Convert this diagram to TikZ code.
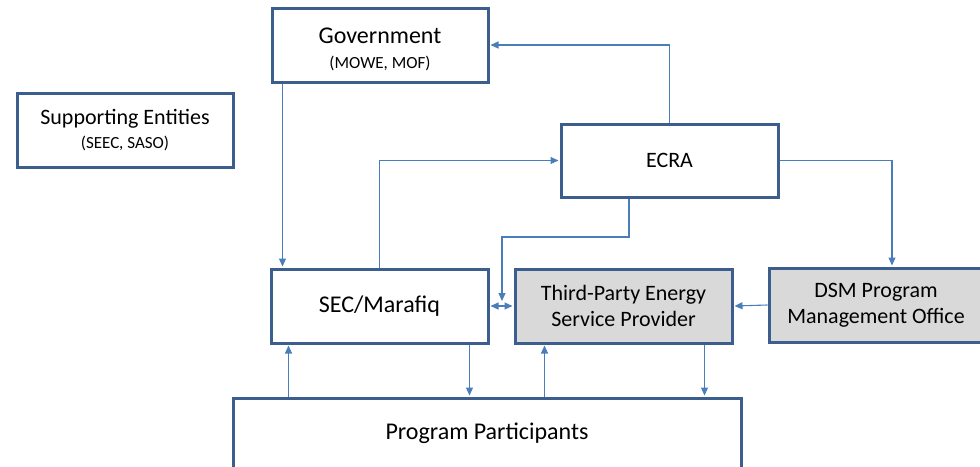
\documentclass[tikz,border=0pt]{standalone}
\usepackage{fontspec}
\setmainfont{Carlito}
\usetikzlibrary{arrows.meta,calc}
\definecolor{boxblue}{HTML}{3B5E8C}
\definecolor{lineblue}{HTML}{4A7EBB}
\definecolor{boxgrey}{HTML}{D9D9D9}
\tikzset{
  entity/.style={draw=boxblue, line width=3pt, fill=white, minimum width=216pt, minimum height=74pt, align=center, inner sep=0pt, font=\fontsize{22}{26}\selectfont},
  bigent/.style={entity, font=\fontsize{24}{28}\selectfont},
  greyent/.style={entity, fill=boxgrey},
  conn/.style={draw=lineblue, line width=1.1pt, -{Triangle[length=8pt,width=7pt]}, shorten >=1pt}
}
\newcommand{\subtxt}[1]{{\fontsize{17}{20}\selectfont #1}}
\begin{document}
\begin{tikzpicture}[x=1pt,y=-1pt]
\useasboundingbox (0,0) rectangle (980,466);
\begin{scope}
\clip (0,0) rectangle (980,466);
\node[bigent] (gov) at (380,45) {\raisebox{-5pt}[\height][\depth]{\begin{tabular}{@{}c@{}}Government\\[-3pt]\subtxt{(MOWE, MOF)}\end{tabular}}};
\node[entity] (sup) at (125,130) {Supporting Entities\\[-2pt]\subtxt{(SEEC, SASO)}};
\node[entity, minimum width=217pt, minimum height=73pt] (ecra) at (669.5,160.5) {ECRA};
\node[bigent, minimum width=217pt] (sec) at (379.5,306) {SEC/Marafiq};
\node[greyent, minimum width=217pt] (tp) at (623.5,306) {Third-Party Energy\\Service Provider};
\node[greyent, minimum width=214pt] (dsm) at (876,305) {DSM Program\\Management Office};
\node[bigent, minimum width=508pt, minimum height=70pt] (prog) at (487,433) {Program Participants};

\coordinate (k1) at (502,237);
\coordinate (k2) at (502,302);

\draw[conn] (ecra.north) |- (gov.east);
\draw[conn] ([xshift=12pt]gov.south west) -- ([xshift=12pt]gov.south west |- sec.north);
\draw[conn] (sec.north) |- (ecra.west);
\draw[conn] ([xshift=-40.5pt]ecra.south) |- (k1) -- (k2);
\draw[conn, {Triangle[length=8pt,width=7pt]}-{Triangle[length=8pt,width=7pt]}, shorten <=1pt] (sec.east) -- (tp.west);
\draw[conn] (ecra.east) -| ([xshift=16pt]dsm.north);
\draw[conn] (dsm.west) -- (tp.east);
\draw[conn] ([xshift=19pt]sec.south west |- prog.north) -- ([xshift=19pt]sec.south west);
\draw[conn] ([xshift=-20pt]sec.south east) -- ([xshift=-20pt]sec.south east |- prog.north);
\draw[conn] ([xshift=31pt]tp.south west |- prog.north) -- ([xshift=31pt]tp.south west);
\draw[conn] ([xshift=-29pt]tp.south east) -- ([xshift=-29pt]tp.south east |- prog.north);
\end{scope}
\end{tikzpicture}
\end{document}
